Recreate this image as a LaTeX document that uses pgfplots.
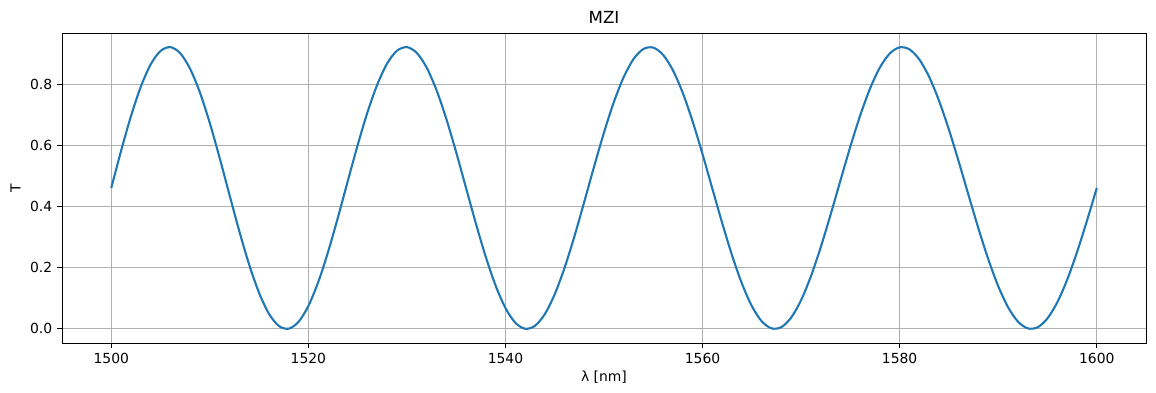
\documentclass[border=0pt]{standalone}
\usepackage{fontspec}
\setmainfont{DejaVu Sans}
\usepackage{pgfplots}
\pgfplotsset{compat=1.18}
\definecolor{mplblue}{HTML}{1F77B4}
\definecolor{gridgray}{HTML}{B0B0B0}
\begin{document}
\begin{tikzpicture}
\path[use as bounding box] (-44.64pt,-36pt) rectangle (787.68pt,246.96pt);
\begin{axis}[
  scale only axis, width=780.5pt, height=223.2pt,
  at={(0,0)}, anchor=south west,
  xmin=1495, xmax=1605, ymin=-0.0461, ymax=0.9681,
  xtick={1500,1520,1540,1560,1580,1600},
  ytick={0,0.2,0.4,0.6,0.8},
  yticklabel style={/pgf/number format/.cd,fixed,fixed zerofill,precision=1},
  xticklabel style={/pgf/number format/.cd,1000 sep={}},
  /pgf/number format/assume math mode=true,
  tick align=outside, tick pos=left,
  major tick length=3.5pt,
  tick style={black, line width=0.8pt},
  axis line style={black, line width=0.6pt},
  grid=major,
  major grid style={gridgray, line width=0.8pt},
  title={MZI},
  title style={font=\fontsize{12}{14.4}\selectfont, yshift=-2.5pt},
  xlabel={λ [nm]},
  ylabel={T},
  xlabel style={yshift=1.5pt},
  every tick label/.append style={font=\fontsize{10}{12}\selectfont},
  label style={font=\fontsize{10}{12}\selectfont},
]
\addplot[mplblue, line width=1.5pt, mark=none, smooth, tension=0.5, line join=round] coordinates {
(1500,0.4610)(1501,0.5830)(1502,0.6962)(1503,0.7926)(1504,0.8653)(1505,0.9094)
(1506,0.9218)(1507,0.9018)(1508,0.8509)(1509,0.7730)(1510,0.6733)(1511,0.5590)
(1512,0.4380)(1513,0.3188)(1514,0.2095)(1515,0.1177)(1516,0.0496)(1517,0.0097)
(1518,0.0007)(1519,0.0230)(1520,0.0751)(1521,0.1531)(1522,0.2520)(1523,0.3647)
(1524,0.4838)(1525,0.6011)(1526,0.7091)(1527,0.7998)(1528,0.8688)(1529,0.9102)
(1530,0.9218)(1531,0.9030)(1532,0.8551)(1533,0.7814)(1534,0.6869)(1535,0.5777)
(1536,0.4610)(1537,0.3445)(1538,0.2357)(1539,0.1417)(1540,0.0682)(1541,0.0201)
(1542,0.0004)(1543,0.0102)(1544,0.0487)(1545,0.1135)(1546,0.2002)(1547,0.3032)
(1548,0.4162)(1549,0.5318)(1550,0.6428)(1551,0.7423)(1552,0.8240)(1553,0.8831)
(1554,0.9158)(1555,0.9203)(1556,0.8964)(1557,0.8456)(1558,0.7712)(1559,0.6779)
(1560,0.5714)(1561,0.4582)(1562,0.3454)(1563,0.2398)(1564,0.1477)(1565,0.0747)
(1566,0.0250)(1567,0.0017)(1568,0.0059)(1569,0.0374)(1570,0.0941)(1571,0.1726)
(1572,0.2682)(1573,0.3749)(1574,0.4867)(1575,0.5969)(1576,0.6989)(1577,0.7868)
(1578,0.8556)(1579,0.9012)(1580,0.9212)(1581,0.9144)(1582,0.8813)(1583,0.8240)
(1584,0.7460)(1585,0.6516)(1586,0.5464)(1587,0.4364)(1588,0.3279)(1589,0.2272)
(1590,0.1398)(1591,0.0709)(1592,0.0239)(1593,0.0017)(1594,0.0053)(1595,0.0345)
(1596,0.0874)(1597,0.1612)(1598,0.2515)(1599,0.3533)(1600,0.4610)
};
\end{axis}
\end{tikzpicture}
\end{document}
